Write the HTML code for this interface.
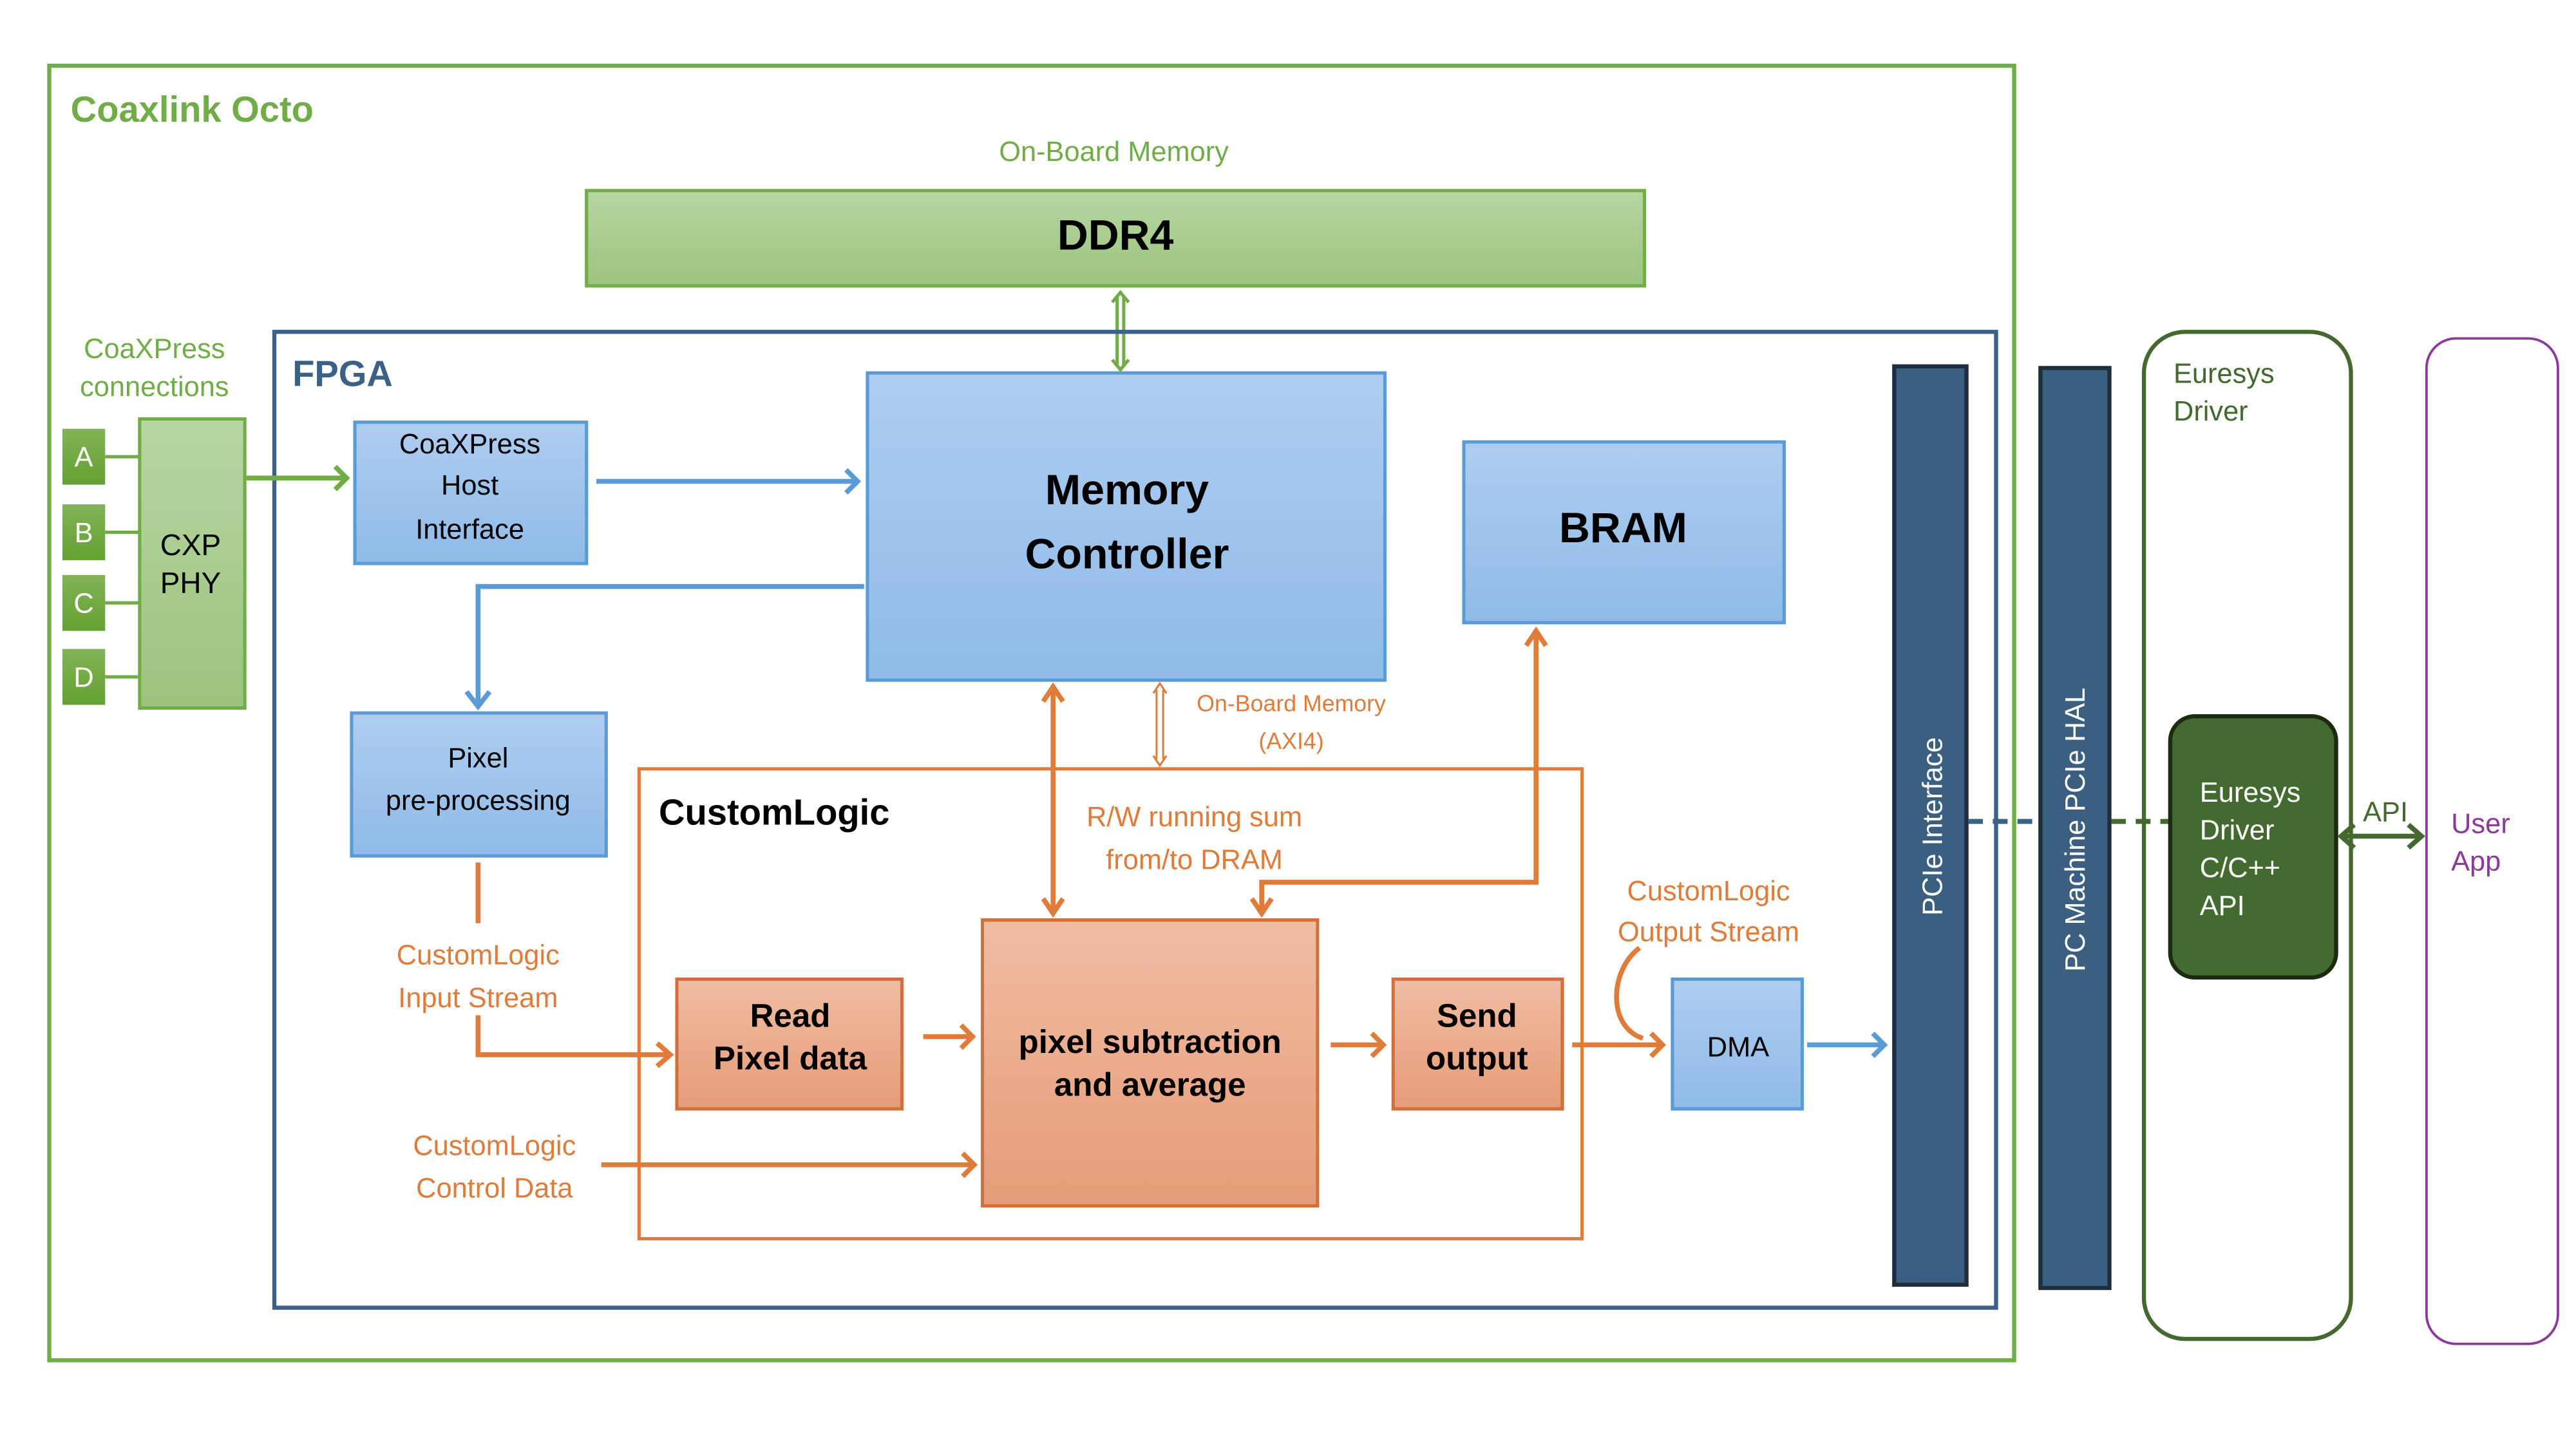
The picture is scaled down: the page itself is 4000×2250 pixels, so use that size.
<!DOCTYPE html>
<html><head><meta charset="utf-8"><style>html,body{margin:0;padding:0;background:#fff}svg{display:block}</style></head>
<body>
<svg width="4000" height="2250" viewBox="0 0 1568 882" preserveAspectRatio="none" xmlns="http://www.w3.org/2000/svg" font-family="Liberation Sans, sans-serif">
<defs>
<linearGradient id="gG" x1="0" y1="0" x2="0" y2="1"><stop offset="0" stop-color="#b7d6a2"/><stop offset="1" stop-color="#9cc37e"/></linearGradient>
<linearGradient id="gS" x1="0" y1="0" x2="0" y2="1"><stop offset="0" stop-color="#82b355"/><stop offset="1" stop-color="#64a132"/></linearGradient>
<linearGradient id="gB" x1="0" y1="0" x2="0" y2="1"><stop offset="0" stop-color="#aecdf0"/><stop offset="1" stop-color="#8fbbe8"/></linearGradient>
<linearGradient id="gO" x1="0" y1="0" x2="0" y2="1"><stop offset="0" stop-color="#f0bca2"/><stop offset="1" stop-color="#e69c78"/></linearGradient>
</defs>
<rect x="30" y="40" width="1196" height="788" fill="none" stroke="#70ad47" stroke-width="2.5"/>
<text x="43" y="74" font-size="22" font-weight="bold" fill="#70ad47">Coaxlink Octo</text>
<text x="678" y="98" font-size="17" fill="#70ad47" text-anchor="middle">On-Board Memory</text>
<rect x="357" y="116" width="644" height="58" fill="url(#gG)" stroke="#70ad47" stroke-width="2"/>
<text x="679" y="152" font-size="26" font-weight="bold" text-anchor="middle">DDR4</text>
<g stroke="#70ad47" stroke-width="2" fill="none"><line x1="680" y1="180" x2="680" y2="223"/><line x1="684" y1="180" x2="684" y2="223"/><polyline points="677,184 682,178 687,184"/><polyline points="677,219 682,225 687,219"/></g>
<rect x="167" y="202" width="1048" height="594" fill="none" stroke="#3b6286" stroke-width="2.5"/>
<text x="178" y="235" font-size="22" font-weight="bold" fill="#3b6286">FPGA</text>
<text x="94" y="218" font-size="17" fill="#70ad47" text-anchor="middle">CoaXPress</text>
<text x="94" y="241" font-size="17" fill="#70ad47" text-anchor="middle">connections</text>
<g stroke="#70ad47" stroke-width="2"><line x1="64" y1="278" x2="85" y2="278"/><line x1="64" y1="324" x2="85" y2="324"/><line x1="64" y1="367" x2="85" y2="367"/><line x1="64" y1="412" x2="85" y2="412"/></g>
<g fill="url(#gS)"><rect x="38" y="261" width="26" height="34"/><rect x="38" y="307" width="26" height="34"/><rect x="38" y="350" width="26" height="34"/><rect x="38" y="395" width="26" height="34"/></g>
<g fill="#fff" font-size="17" text-anchor="middle"><text x="51" y="284">A</text><text x="51" y="330">B</text><text x="51" y="373">C</text><text x="51" y="418">D</text></g>
<rect x="85" y="255" width="64" height="176" fill="url(#gG)" stroke="#70ad47" stroke-width="2"/>
<text x="116" y="338" font-size="18" text-anchor="middle">CXP</text><text x="116" y="361" font-size="18" text-anchor="middle">PHY</text>
<g stroke="#70ad47" stroke-width="3" fill="none"><line x1="150" y1="291" x2="210" y2="291"/><polyline points="204,284 211,291 204,298"/></g>
<rect x="216" y="257" width="141" height="86" fill="url(#gB)" stroke="#5b9bd5" stroke-width="2"/>
<g font-size="17" text-anchor="middle"><text x="286" y="276">CoaXPress</text><text x="286" y="301">Host</text><text x="286" y="328">Interface</text></g>
<g stroke="#5b9bd5" stroke-width="3" fill="none"><line x1="363" y1="293" x2="521" y2="293"/><polyline points="515,286 522,293 515,300"/>
<polyline points="526,357 291,357 291,428"/><polyline points="284,421 291,430 298,421"/>
<line x1="1100" y1="636" x2="1146" y2="636"/><polyline points="1140,629 1147,636 1140,643"/></g>
<rect x="528" y="227" width="315" height="187" fill="url(#gB)" stroke="#5b9bd5" stroke-width="2"/>
<text x="686" y="307" font-size="26" font-weight="bold" text-anchor="middle">Memory</text>
<text x="686" y="346" font-size="26" font-weight="bold" text-anchor="middle">Controller</text>
<rect x="891" y="269" width="195" height="110" fill="url(#gB)" stroke="#5b9bd5" stroke-width="2"/>
<text x="988" y="330" font-size="26" font-weight="bold" text-anchor="middle">BRAM</text>
<rect x="214" y="434" width="155" height="87" fill="url(#gB)" stroke="#5b9bd5" stroke-width="2"/>
<text x="291" y="467" font-size="17" text-anchor="middle">Pixel</text><text x="291" y="493" font-size="17" text-anchor="middle">pre-processing</text>
<rect x="389" y="468" width="574" height="286" fill="none" stroke="#e07b39" stroke-width="2"/>
<text x="401" y="502" font-size="22" font-weight="bold">CustomLogic</text>
<g font-size="17" fill="#e07b39" text-anchor="middle">
<text x="291" y="587">CustomLogic</text><text x="291" y="613">Input Stream</text>
<text x="301" y="703">CustomLogic</text><text x="301" y="729">Control Data</text>
<text x="1040" y="548">CustomLogic</text><text x="1040" y="573">Output Stream</text>
<text x="727" y="503">R/W running sum</text><text x="727" y="529">from/to DRAM</text>
<text x="786" y="433" font-size="14">On-Board Memory</text><text x="786" y="456" font-size="14">(AXI4)</text></g>
<g stroke="#e07b39" stroke-width="3" fill="none">
<line x1="291" y1="525" x2="291" y2="562"/><polyline points="291,618 291,642 406,642"/><polyline points="400,635 408,642 400,649"/>
<line x1="562" y1="631" x2="591" y2="631"/><polyline points="585,624 592,631 585,638"/>
<line x1="810" y1="636" x2="841" y2="636"/><polyline points="835,629 842,636 835,643"/>
<line x1="957" y1="636" x2="1011" y2="636"/><polyline points="1005,629 1012,636 1005,643"/>
<path d="M998,577 C980,590 978,625 1000,632"/>
<line x1="366" y1="709" x2="592" y2="709"/><polyline points="586,702 593,709 586,716"/>
<line x1="641" y1="420" x2="641" y2="554"/><polyline points="635,427 641,418 647,427"/><polyline points="635,547 641,556 647,547"/>
<polyline points="768,554 768,537 935,537 935,386"/><polyline points="929,393 935,384 941,393"/><polyline points="762,547 768,556 774,547"/>
</g>
<g stroke="#e07b39" stroke-width="1.2" fill="none"><line x1="704" y1="420" x2="704" y2="462"/><line x1="708" y1="420" x2="708" y2="462"/><polyline points="702,422 706,416 710,422"/><polyline points="702,460 706,466 710,460"/></g>
<rect x="412" y="596" width="137" height="79" fill="url(#gO)" stroke="#d0703a" stroke-width="2"/>
<text x="481" y="625" font-size="20" font-weight="bold" text-anchor="middle">Read</text><text x="481" y="651" font-size="20" font-weight="bold" text-anchor="middle">Pixel data</text>
<rect x="598" y="560" width="204" height="174" fill="url(#gO)" stroke="#d0703a" stroke-width="2"/>
<text x="700" y="641" font-size="20" font-weight="bold" text-anchor="middle">pixel subtraction</text><text x="700" y="667" font-size="20" font-weight="bold" text-anchor="middle">and average</text>
<rect x="848" y="596" width="103" height="79" fill="url(#gO)" stroke="#d0703a" stroke-width="2"/>
<text x="899" y="625" font-size="20" font-weight="bold" text-anchor="middle">Send</text><text x="899" y="651" font-size="20" font-weight="bold" text-anchor="middle">output</text>
<rect x="1018" y="596" width="79" height="79" fill="url(#gB)" stroke="#5b9bd5" stroke-width="2"/>
<text x="1058" y="643" font-size="17" text-anchor="middle">DMA</text>
<rect x="1153" y="223" width="44" height="559" fill="#3a5f80" stroke="#1f2d3d" stroke-width="2.5"/>
<text transform="translate(1182,503) rotate(-90)" font-size="17" fill="#fff" text-anchor="middle">PCIe Interface</text>
<rect x="1242" y="224" width="42" height="560" fill="#3a5f80" stroke="#1f2d3d" stroke-width="2.5"/>
<text transform="translate(1269,505) rotate(-90)" font-size="17" fill="#fff" text-anchor="middle">PC Machine PCIe HAL</text>
<line x1="1198" y1="500" x2="1242" y2="500" stroke="#3b6286" stroke-width="3" stroke-dasharray="9,6"/>
<line x1="1285" y1="500" x2="1322" y2="500" stroke="#44692f" stroke-width="3" stroke-dasharray="9,6"/>
<rect x="1305" y="202" width="126" height="613" rx="25" fill="none" stroke="#44692f" stroke-width="2.5"/>
<text x="1323" y="233" font-size="17" fill="#44692f">Euresys</text><text x="1323" y="256" font-size="17" fill="#44692f">Driver</text>
<rect x="1321" y="436" width="101" height="159" rx="15" fill="#436b30" stroke="#1d2a12" stroke-width="2.5"/>
<g font-size="17" fill="#fff"><text x="1339" y="488">Euresys</text><text x="1339" y="511">Driver</text><text x="1339" y="534">C/C++</text><text x="1339" y="557">API</text></g>
<g stroke="#44692f" stroke-width="3" fill="none"><line x1="1426" y1="509" x2="1473" y2="509"/><polyline points="1433,502 1425,509 1433,516"/><polyline points="1466,502 1474,509 1466,516"/></g>
<text x="1452" y="500" font-size="17" fill="#44692f" text-anchor="middle">API</text>
<rect x="1477" y="206" width="80" height="612" rx="18" fill="none" stroke="#8b3a9b" stroke-width="1.5"/>
<text x="1492" y="507" font-size="17" fill="#8b3a9b">User</text><text x="1492" y="530" font-size="17" fill="#8b3a9b">App</text>
</svg>
</body></html>
